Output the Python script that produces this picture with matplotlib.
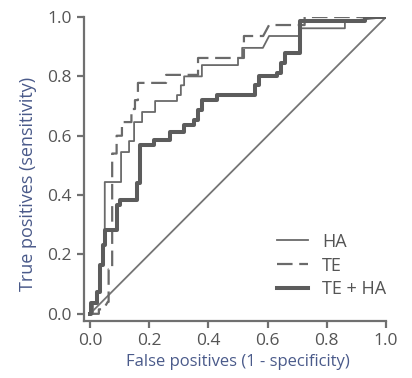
import matplotlib
matplotlib.use("Agg")
import matplotlib.pyplot as plt

# ROC curves (false positive rate, true positive rate)
HA_FPR = [0.0, 0.01, 0.01, 0.024, 0.024, 0.034, 0.034, 0.044, 0.044, 0.05, 0.05,
          0.105, 0.105, 0.132, 0.132, 0.149, 0.149, 0.176, 0.176, 0.22, 0.22,
          0.294, 0.294, 0.307, 0.307, 0.318, 0.318, 0.378, 0.378, 0.50, 0.50,
          0.514, 0.514, 0.584, 0.605, 0.709, 0.709, 0.861, 0.861, 1.0]
HA_TPR = [0.0, 0.0, 0.035, 0.035, 0.074, 0.074, 0.165, 0.165, 0.232, 0.232, 0.444,
          0.444, 0.545, 0.545, 0.582, 0.582, 0.646, 0.646, 0.68, 0.68, 0.717,
          0.717, 0.737, 0.737, 0.77, 0.77, 0.80, 0.80, 0.838, 0.838, 0.862,
          0.862, 0.896, 0.896, 0.936, 0.936, 0.962, 0.962, 0.985, 1.0]

TE_FPR = [0.0, 0.03, 0.03, 0.045, 0.06, 0.063, 0.063, 0.075, 0.075, 0.09, 0.09,
          0.108, 0.108, 0.14, 0.14, 0.152, 0.152, 0.162, 0.162, 0.257, 0.257,
          0.365, 0.365, 0.52, 0.52, 0.585, 0.605, 0.725, 0.725, 1.0]
TE_TPR = [0.0, 0.0, 0.015, 0.015, 0.04, 0.04, 0.15, 0.15, 0.54, 0.54, 0.60,
          0.60, 0.646, 0.646, 0.69, 0.69, 0.72, 0.72, 0.778, 0.778, 0.805,
          0.805, 0.862, 0.862, 0.936, 0.936, 0.973, 0.973, 1.0, 1.0]

TEHA_FPR = [0.0, 0.005, 0.005, 0.024, 0.024, 0.034, 0.034, 0.044, 0.044, 0.05, 0.05,
            0.09, 0.09, 0.10, 0.10, 0.16, 0.16, 0.17, 0.17, 0.216, 0.216, 0.27,
            0.27, 0.318, 0.318, 0.351, 0.351, 0.365, 0.365, 0.378, 0.378, 0.43,
            0.43, 0.557, 0.557, 0.57, 0.57, 0.633, 0.633, 0.645, 0.645, 0.66,
            0.66, 0.709, 0.709, 0.93, 0.93, 1.0]
TEHA_TPR = [0.0, 0.0, 0.035, 0.035, 0.074, 0.074, 0.165, 0.165, 0.232, 0.232, 0.283,
            0.283, 0.367, 0.367, 0.384, 0.384, 0.44, 0.44, 0.57, 0.57, 0.586, 0.586,
            0.613, 0.613, 0.636, 0.636, 0.653, 0.653, 0.687, 0.687, 0.72, 0.72,
            0.737, 0.737, 0.77, 0.77, 0.80, 0.80, 0.81, 0.81, 0.845, 0.845,
            0.88, 0.88, 0.985, 0.985, 1.0, 1.0]

TICKS = [0.0, 0.2, 0.4, 0.6, 0.8, 1.0]
TICK_LABELS = ["0.0", "0.2", "0.4", "0.6", "0.8", "1.0"]

plt.rcParams['font.family'] = ['Open Sans', 'DejaVu Sans']

AXIS_GREY = "#707070"
LINE_GREY = "#6a6a6a"
LABEL_BLUE = "#4a5a8a"

fig = plt.figure(figsize=(4.12, 3.78), dpi=100)
ax = fig.add_axes([0.204, 0.151, 0.733, 0.804])

ax.plot([0, 1], [0, 1], color="#757575", lw=1.3)
ax.plot(HA_FPR, HA_TPR, color=LINE_GREY, lw=1.3, label="HA")
ax.plot(TE_FPR, TE_TPR, color=LINE_GREY, lw=1.6, linestyle=(0, (7, 3)), label="TE")
ax.plot(TEHA_FPR, TEHA_TPR, color="#5c5c5c", lw=2.9, label="TE + HA")

ax.set_xlim(-0.02, 1.0)
ax.set_ylim(-0.024, 1.0)
ax.set_xticks(TICKS)
ax.set_xticklabels(TICK_LABELS)
ax.set_yticks(TICKS)
ax.set_yticklabels(TICK_LABELS)

for side in ["top", "right"]:
    ax.spines[side].set_visible(False)
for side in ["left", "bottom"]:
    ax.spines[side].set_color(AXIS_GREY)
    ax.spines[side].set_linewidth(1.6)

ax.tick_params(axis="both", colors=AXIS_GREY, length=5, width=1.6, labelsize=12.5,
               labelcolor="#555555", pad=4)

ax.set_xlabel("False positives (1 - specificity)", color=LABEL_BLUE, fontsize=12)
ax.set_ylabel("True positives (sensitivity)", color=LABEL_BLUE, fontsize=13)
ax.xaxis.set_label_coords(0.51, -0.135)
ax.yaxis.set_label_coords(-0.185, 0.45)
ax.xaxis.label.set_va("center")
ax.yaxis.label.set_va("center")

leg = ax.legend(loc="upper left", bbox_to_anchor=(0.639, 0.29), frameon=False,
                fontsize=13, handlelength=1.72, handletextpad=0.78, labelspacing=0.32,
                borderpad=0, borderaxespad=0, labelcolor="#555555")

fig.savefig("out.png", dpi=100)
